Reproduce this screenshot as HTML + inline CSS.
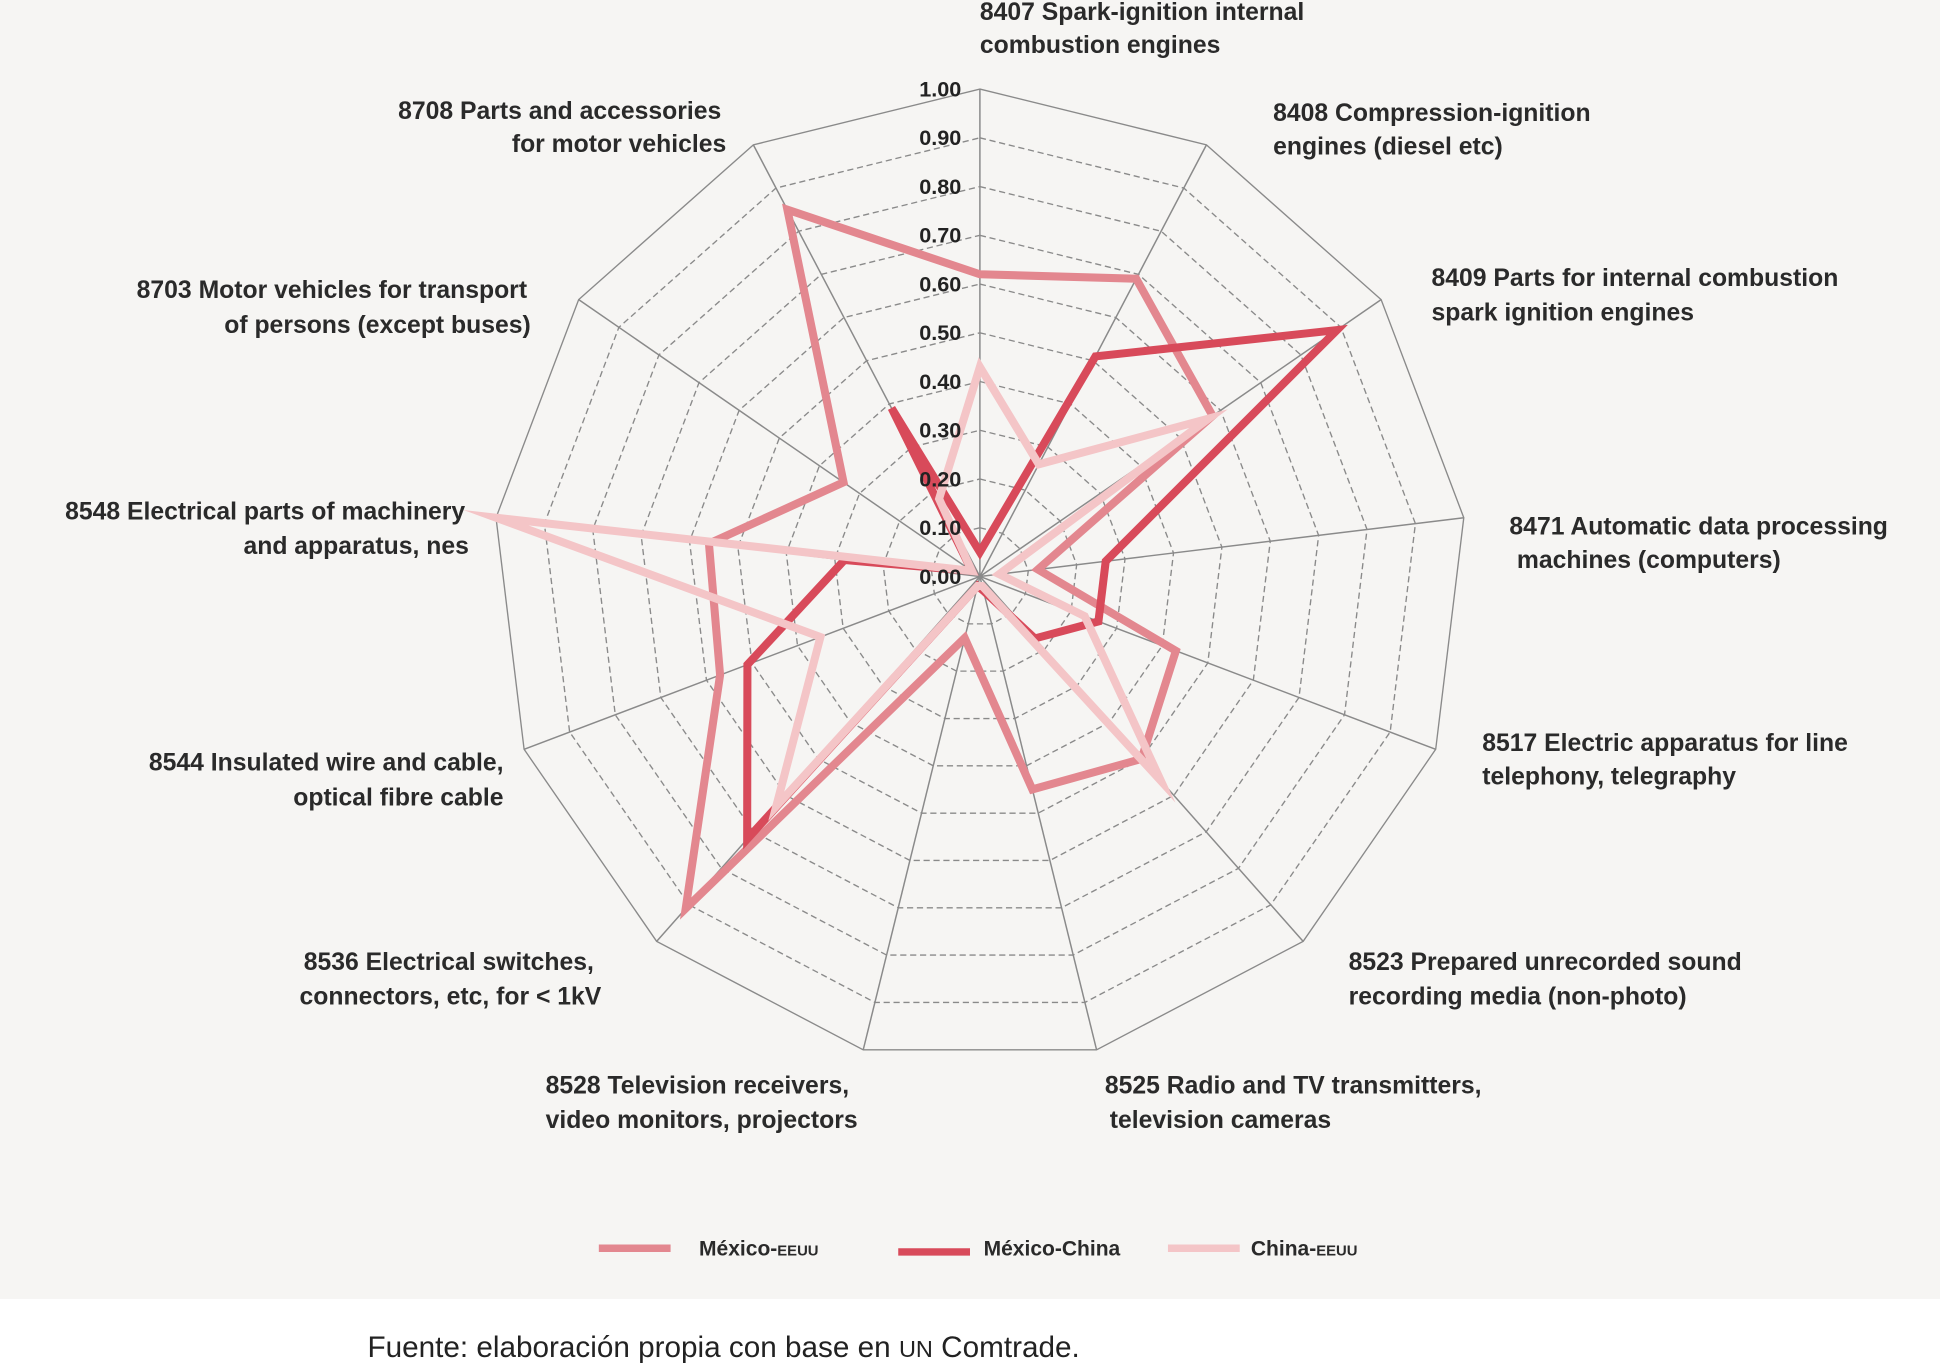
<!DOCTYPE html>
<html><head><meta charset="utf-8">
<style>
html,body{margin:0;padding:0;width:1940px;height:1367px;overflow:hidden;background:#fff;}
svg{display:block;}
text{font-family:"Liberation Sans",sans-serif;}
</style></head>
<body>
<svg id="chart" width="1940" height="1367" viewBox="0 0 1568 1105" preserveAspectRatio="none" xmlns="http://www.w3.org/2000/svg">
  <rect x="0" y="0" width="1568" height="1050" fill="#f6f5f3"/>
  <g id="grid"></g>
  <g id="series"></g>
  <g id="ticks" font-size="17.5" font-weight="bold" fill="#222" text-anchor="end"></g>
  <g id="labels" font-size="20" font-weight="bold" fill="#2a2a2a"></g>
  <g font-size="17" font-weight="bold" fill="#2a2a2a">
    <g>
      <line x1="484" y1="1009" x2="542" y2="1009" stroke="#e3878f" stroke-width="6"/>
      <text x="565" y="1015">México-<tspan font-size="12">EEUU</tspan></text>
    </g>
    <g>
      <line x1="726" y1="1012" x2="784" y2="1012" stroke="#d84a5a" stroke-width="6"/>
      <text x="795" y="1015">México-China</text>
    </g>
    <g>
      <line x1="944" y1="1009" x2="1002" y2="1009" stroke="#f4c5c7" stroke-width="6"/>
      <text x="1011" y="1015">China-<tspan font-size="12">EEUU</tspan></text>
    </g>
  </g>
  <text x="297" y="1097" font-size="24" fill="#222">Fuente: elaboración propia con base en <tspan font-size="19">UN</tspan> Comtrade.</text>
</svg>
<script>
const categories = ["8407","8408","8409","8471","8517","8523","8525","8528","8536","8544","8548","8703","8708"];
const mexicoEEUU = [0.62,0.69,0.58,0.12,0.43,0.50,0.45,0.13,0.91,0.57,0.56,0.34,0.85];
const mexicoChina = [0.05,0.51,0.89,0.26,0.26,0.17,0.03,0.02,0.72,0.51,0.28,0.02,0.39];
const chinaEEUU = [0.43,0.26,0.57,0.04,0.23,0.56,0.02,0.02,0.63,0.35,1.00,0.02,0.18];
const tickValues = [0,0.1,0.2,0.3,0.4,0.5,0.6,0.7,0.8,0.9,1.0];
const tickLabels = ["0.00","0.10","0.20","0.30","0.40","0.50","0.60","0.70","0.80","0.90","1.00"];

const NS = "http://www.w3.org/2000/svg";
const CX = 792, CY = 466, R = 394;
const N = categories.length;
function angle(i){ return i * 2 * Math.PI / N; }
function px(i, v){ return CX + R * v * Math.sin(angle(i)); }
function py(i, v){ return CY - R * v * Math.cos(angle(i)); }
function mk(tag, attrs, parent){
  const el = document.createElementNS(NS, tag);
  for (const k in attrs) el.setAttribute(k, attrs[k]);
  parent.appendChild(el);
  return el;
}
const grid = document.getElementById('grid');
tickValues.forEach((v, t) => {
  if (v === 0) return;
  const pts = categories.map((c, i) => px(i, v).toFixed(1) + ',' + py(i, v).toFixed(1)).join(' ');
  const ring = mk('polygon', {points: pts, fill: 'none', stroke: '#8a8a8a', 'stroke-width': 1.1, 'stroke-dasharray': v === 1 ? 'none' : '5,3'}, grid);
  
  
});
categories.forEach((c, i) => {
  const sp = mk('line', {x1: CX, y1: CY, x2: px(i, 1), y2: py(i, 1), stroke: '#8a8a8a', 'stroke-width': 1.2}, grid);
  
  
});
const ticks = document.getElementById('ticks');
tickValues.forEach((v, t) => {
  const tx = mk('text', {x: 777, y: CY - R * v + 6}, ticks);
  tx.textContent = tickLabels[t];
  
  
});
const series = document.getElementById('series');
function drawSeries(vals, color, name){
  const pts = vals.map((v, i) => px(i, v).toFixed(1) + ',' + py(i, v).toFixed(1)).join(' ');
  const pg = mk('polygon', {points: pts, fill: 'none', stroke: color, 'stroke-width': 6.5, 'stroke-linejoin': 'miter', 'stroke-miterlimit': 10}, series);
  
  
}
drawSeries(mexicoEEUU, '#e3878f', 'series-mexico-eeuu');
drawSeries(mexicoChina, '#d84a5a', 'series-mexico-china');
drawSeries(chinaEEUU, '#f4c5c7', 'series-china-eeuu');

const labelDefs = [
  ["8407", "start", [[792,16,"8407 Spark-ignition internal"],[792,43,"combustion engines"]]],
  ["8408", "start", [[1029,98,"8408 Compression-ignition"],[1029,125,"engines (diesel etc)"]]],
  ["8409", "start", [[1157,231,"8409 Parts for internal combustion"],[1157,259,"spark ignition engines"]]],
  ["8471", "start", [[1220,432,"8471 Automatic data processing"],[1226,459,"machines (computers)"]]],
  ["8517", "start", [[1198,607,"8517 Electric apparatus for line"],[1198,634,"telephony, telegraphy"]]],
  ["8523", "start", [[1090,784,"8523 Prepared unrecorded sound"],[1090,812,"recording media (non-photo)"]]],
  ["8525", "start", [[893,884,"8525 Radio and TV transmitters,"],[897,912,"television cameras"]]],
  ["8528", "start", [[441,884,"8528 Television receivers,"],[441,912,"video monitors, projectors"]]],
  ["8536", "end", [[480,784,"8536 Electrical switches,"],[486,812,"connectors, etc, for < 1kV"]]],
  ["8544", "end", [[407,623,"8544 Insulated wire and cable,"],[407,651,"optical fibre cable"]]],
  ["8548", "end", [[376,420,"8548 Electrical parts of machinery"],[379,448,"and apparatus, nes"]]],
  ["8703", "end", [[426,241,"8703 Motor vehicles for transport"],[429,269,"of persons (except buses)"]]],
  ["8708", "end", [[583,96,"8708 Parts and accessories"],[587,123,"for motor vehicles"]]]
];
const labels = document.getElementById('labels');
labelDefs.forEach(d => {
  const g = mk('text', {'text-anchor': d[1]}, labels);
  
  
  d[2].forEach(l => {
    const ts = mk('tspan', {x: l[0], y: l[1]}, g);
    ts.textContent = l[2];
  });
});
</script>
</body></html>
